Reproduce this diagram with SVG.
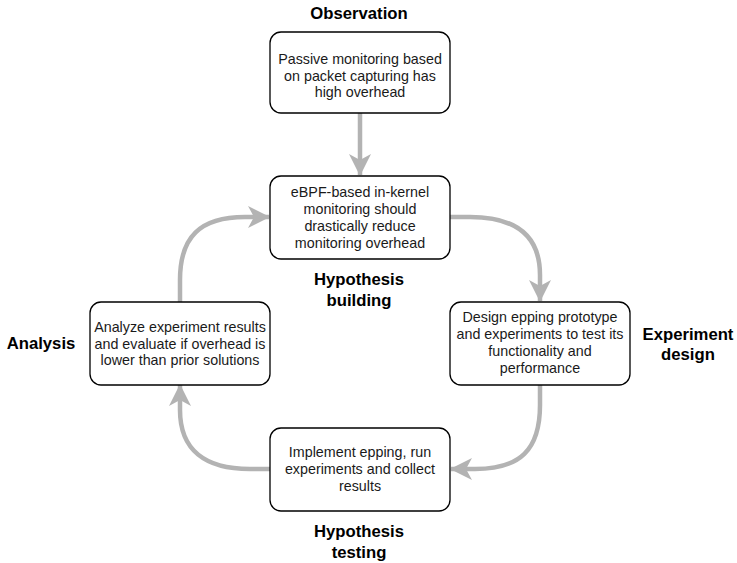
<svg xmlns="http://www.w3.org/2000/svg" width="737" height="563" viewBox="0 0 737 563">
<defs>
<style>
.box{fill:#fff;stroke:#000;stroke-width:1.3}
.t{font-family:"Liberation Sans",Arial,sans-serif;font-size:14.3px;fill:#1a1a1a;text-anchor:middle}
.h{font-family:"Liberation Sans",Arial,sans-serif;font-size:16.7px;font-weight:bold;fill:#000;text-anchor:middle}
.c{fill:none;stroke:#b3b3b3;stroke-width:4.5}
</style>
<marker id="ah" markerUnits="userSpaceOnUse" viewBox="0 0 22 22" refX="21" refY="11" markerWidth="22" markerHeight="22" orient="auto">
<path d="M0,0 L22,11 L0,22 L6,11 Z" fill="#b3b3b3"/>
</marker>
</defs>
<rect width="737" height="563" fill="#fff"/>
<g id="connectors">
<path class="c" d="M360,113 L360,175" marker-end="url(#ah)"/>
<path class="c" d="M450,217 L470,217 C515,217 540,235 540,275 L540,301" marker-end="url(#ah)"/>
<path class="c" d="M540,384 L540,405 C540,450 520,469 475,469 L451,469" marker-end="url(#ah)"/>
<path class="c" d="M270,469 L250,469 C205,469 180,450 180,410 L180,385" marker-end="url(#ah)"/>
<path class="c" d="M180,302 L180,280 C180,237 200,217 245,217 L269,217" marker-end="url(#ah)"/>
</g>
<g id="observation">
<text class="h" x="359" y="19">Observation</text>
<rect class="box" x="270" y="32" width="180" height="81" rx="11"/>
<text class="t" x="360" y="64">Passive monitoring based</text>
<text class="t" x="360" y="80.5">on packet capturing has</text>
<text class="t" x="360" y="97">high overhead</text>
</g>
<g id="hypothesis-building">
<rect class="box" x="270" y="176" width="180" height="83" rx="11"/>
<text class="t" x="360" y="197">eBPF-based in-kernel</text>
<text class="t" x="360" y="214">monitoring should</text>
<text class="t" x="360" y="231">drastically reduce</text>
<text class="t" x="360" y="248">monitoring overhead</text>
<text class="h" x="359" y="285">Hypothesis</text>
<text class="h" x="359" y="306">building</text>
</g>
<g id="analysis">
<text class="h" x="41" y="349">Analysis</text>
<rect class="box" x="90" y="302" width="180" height="83" rx="11"/>
<text class="t" x="180" y="332">Analyze experiment results</text>
<text class="t" x="180" y="348.5">and evaluate if overhead is</text>
<text class="t" x="180" y="365">lower than prior solutions</text>
</g>
<g id="experiment-design">
<rect class="box" x="450" y="302" width="180" height="83" rx="11"/>
<text class="t" x="540" y="322">Design epping prototype</text>
<text class="t" x="540" y="339">and experiments to test its</text>
<text class="t" x="540" y="356">functionality and</text>
<text class="t" x="540" y="373">performance</text>
<text class="h" x="688" y="340">Experiment</text>
<text class="h" x="688" y="360">design</text>
</g>
<g id="hypothesis-testing">
<rect class="box" x="270" y="428" width="180" height="83" rx="11"/>
<text class="t" x="360" y="457">Implement epping, run</text>
<text class="t" x="360" y="474">experiments and collect</text>
<text class="t" x="360" y="491">results</text>
<text class="h" x="359" y="537">Hypothesis</text>
<text class="h" x="359" y="558">testing</text>
</g>
</svg>
